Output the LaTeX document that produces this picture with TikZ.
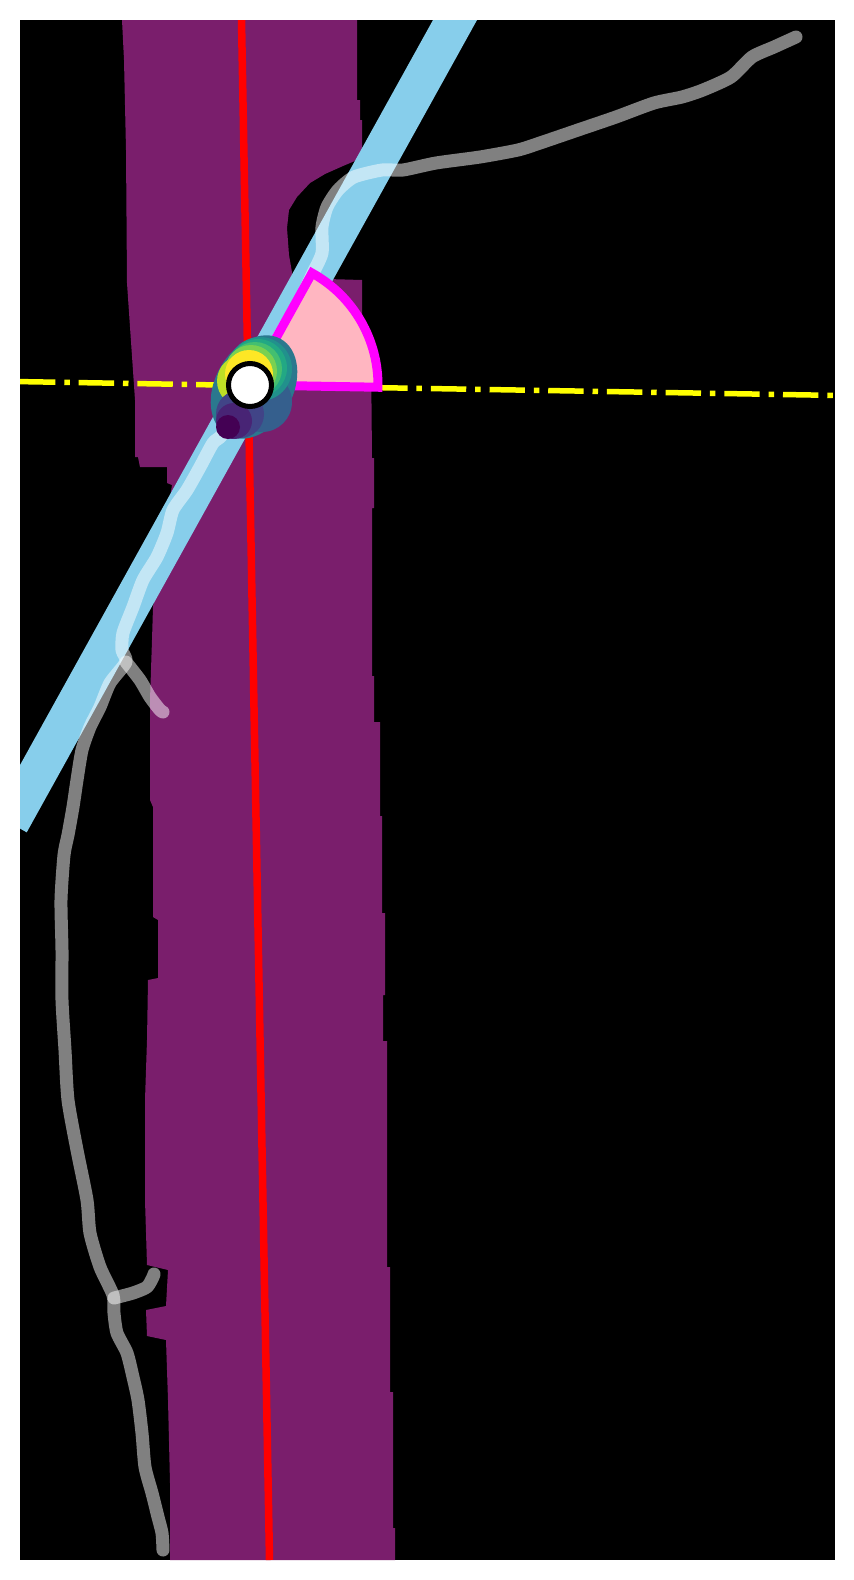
\documentclass[tikz,border=0pt]{standalone}
\usepackage{tikz}

\definecolor{cordpurple}{RGB}{122,30,108}
\definecolor{bandblue}{RGB}{135,206,235}
\definecolor{wedgepink}{RGB}{255,182,193}
\definecolor{wedgeedge}{RGB}{255,0,255}
\definecolor{axisred}{RGB}{255,0,0}
\definecolor{axisyellow}{RGB}{255,255,0}
\definecolor{virA}{RGB}{68,1,84}
\definecolor{virB}{RGB}{72,36,117}
\definecolor{virC}{RGB}{65,68,135}
\definecolor{virD}{RGB}{53,95,141}
\definecolor{virE}{RGB}{42,120,142}
\definecolor{virF}{RGB}{33,145,140}
\definecolor{virG}{RGB}{34,168,132}
\definecolor{virH}{RGB}{68,191,112}
\definecolor{virI}{RGB}{122,209,81}
\definecolor{virJ}{RGB}{189,223,38}
\definecolor{virK}{RGB}{253,231,37}

\begin{document}
\begin{tikzpicture}[x=1pt, y=-1pt,
  track/.style={draw=white, opacity=0.5, line width=13pt, line cap=round, line join=round},
  band/.style={draw=bandblue, line width=38.5pt},
  midline/.style={draw=axisred, line width=7.5pt},
  crossline/.style={draw=axisyellow, line width=5.5pt, dash pattern=on 35.4pt off 8.9pt on 5.5pt off 8.9pt},
  sector/.style={draw=wedgeedge, fill=wedgepink, line width=9pt, miter limit=10},
  marker/.style={draw=black, fill=white, line width=5pt}]
\useasboundingbox (0,0) rectangle (854,1580);
\fill[white] (0,0) rectangle (854,1580);
\fill[black] (20,20) rectangle (835,1560);

\coordinate (ctr) at (250,385);
\coordinate (blob) at (254,387);
\coordinate (redtop) at (241.5,20);
\coordinate (redbot) at (269.5,1560);
\coordinate (bandtop) at (477.2,-20);
\coordinate (bandend) at (9.9,823);
\coordinate (yleft) at (20,381.6);
\coordinate (yright) at (835,395.4);

\begin{scope}
\clip (20,20) rectangle (835,1560);
\fill[cordpurple] (122,20) -- (357,20) -- (357,100) -- (360,100) -- (360,120) -- (362,120) -- (362,158)
  -- (343,166) -- (325,174) -- (310,183) -- (297,197) -- (289,210) -- (287,228) -- (289,255) -- (293,278)
  -- (362,280) -- (362,316) -- (371,350) -- (372,458) -- (374,458) -- (374,508) -- (372,508) -- (372,676)
  -- (374,676) -- (374,722) -- (380,722) -- (380,816) -- (382,816) -- (382,913) -- (385,913) -- (385,995)
  -- (383,995) -- (383,1041) -- (387,1041) -- (387,1267) -- (390,1267) -- (390,1392) -- (393,1392)
  -- (393,1528) -- (395,1528) -- (395,1560) -- (170,1560) -- (170,1483) -- (168,1400) -- (166,1340)
  -- (147,1336) -- (146,1310) -- (166,1306) -- (168,1270) -- (147,1265) -- (145,1200) -- (145,1100)
  -- (147,1040) -- (148,980) -- (158,978) -- (158,920) -- (153,917) -- (153,807) -- (150,800)
  -- (150,700) -- (152,640) -- (153,607) -- (172,485) -- (167,483) -- (167,467) -- (140,467)
  -- (138,457) -- (135,457) -- (135,400) -- (127,283) -- (126,150) -- (124,60) -- cycle;
\draw[midline] (redtop) -- (redbot);
\draw[band] (bandend) -- (bandtop);

\draw[track] plot[smooth, tension=0.4] coordinates {(796,37) (774,47) (752,57) (731,77) (703,90)
  (682,97) (654,103) (616,117) (578,130) (540,143) (518,150) (480,157) (436,163) (403,170)
  (382,170) (354,177) (338,190) (327,207) (322,227) (322,253) (313,273) (300,300) (280,335)
  (260,370) (240,405) (222,435) (213,443) (200,467) (187,490) (173,510) (167,533) (157,557)
  (143,580) (133,607) (123,633) (122,650) (126,662) (110,683) (100,707) (90,727) (82,750)
  (77,780) (73,807) (68,835) (64,855) (61,900) (62,950) (62,1000) (65,1050) (68,1100)
  (77,1150) (87,1200) (90,1233) (100,1267) (113,1295) (114,1313) (117,1333) (127,1353)
  (133,1377) (138,1400) (142,1433) (145,1467) (152,1493) (158,1517) (162,1533) (163,1550)};
\draw[track] plot[smooth, tension=0.4] coordinates {(126,662) (140,680) (150,697) (160,710) (163,712)};
\draw[track] plot[smooth, tension=0.4] coordinates {(114,1298) (133,1293) (147,1287) (153,1277) (154,1274)};

\draw[crossline] (yleft) -- (yright);
\draw[sector] (ctr) -- ++(1:128) arc[start angle=1, end angle=-61, radius=128] -- cycle;

\fill[virE, rotate around={61:(blob)}] (blob) ellipse [x radius=55, y radius=39];
\foreach \px/\py/\r/\c in {262/402/30/virD, 260/369/32/virF, 258/368/29/virG, 255/369/27/virH,
    251/371/26/virI, 243/381/26/virJ, 249/374/24/virK, 240/414/24/virC, 234/421/18/virB, 228/427/12/virA}
  \fill[\c] (\px,\py) circle (\r);
\draw[marker] (ctr) circle (21.5);
\end{scope}
\end{tikzpicture}
\end{document}
